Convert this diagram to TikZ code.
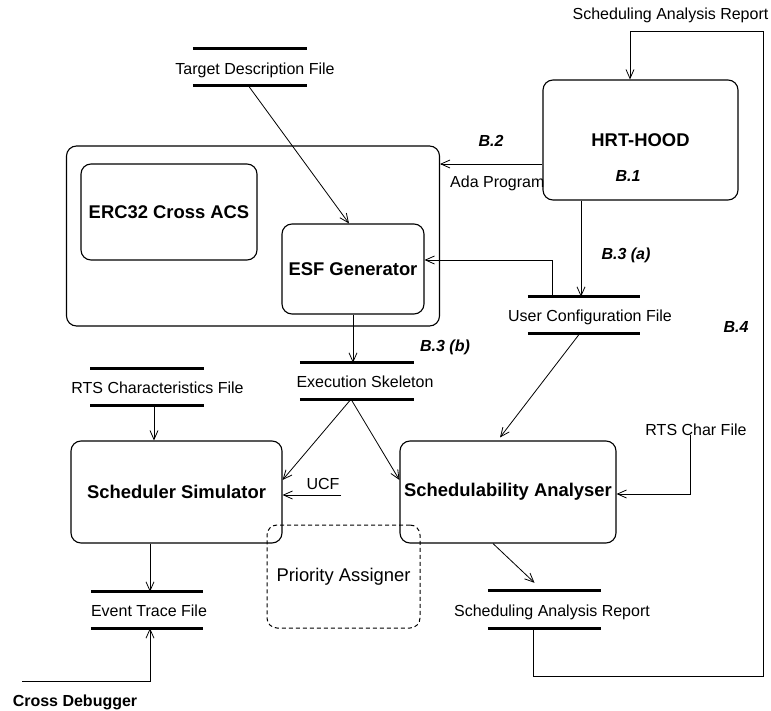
\documentclass[tikz,border=0pt]{standalone}
\usepackage{fontspec}
\setmainfont{Liberation Sans}
\usetikzlibrary{arrows.meta,calc}
\begin{document}
\begin{tikzpicture}[x=1pt,y=-1pt,
  txt/.style={font=\fontsize{16}{19}\selectfont, inner sep=0pt},
  boldtxt/.style={font=\fontsize{18.4}{22}\selectfont\bfseries},
  tag/.style={font=\fontsize{16}{19}\selectfont\bfseries\itshape, inner sep=0pt},
  proc/.style={draw, rounded corners=10pt, line width=1.1pt, inner sep=0pt},
  store/.style={inner sep=0pt, minimum height=36pt},
  bar/.style={line width=3.3pt},
  arr/.style={line width=0.8pt, -{Straight Barb[length=9pt,width=8pt]}},
  wire/.style={line width=0.8pt}]
\useasboundingbox (0,0) rectangle (771,711);

% process boxes
\node[proc, boldtxt, minimum width=195pt, minimum height=120pt] (hrt) at (640.5,140) {HRT-HOOD};
\node[proc, minimum width=373pt, minimum height=180pt] (outer) at (253,236) {};
\node[proc, boldtxt, minimum width=176pt, minimum height=96pt] (erc) at (169,212) {ERC32 Cross ACS};
\node[proc, boldtxt, minimum width=142pt, minimum height=90pt] (esf) at (353,269) {ESF Generator};
\node[proc, boldtxt, minimum width=211pt, minimum height=102pt] (ss) at (176.5,492) {Scheduler Simulator};
\node[proc, boldtxt, minimum width=216pt, minimum height=102pt] (sa) at (508,492) {Schedulability Analyser};
\node[proc, line width=1pt, dash pattern=on 4pt off 3pt, font=\fontsize{18.4}{22}\selectfont,
      minimum width=153pt, minimum height=103pt] (pa) at (343.5,576.5) {Priority Assigner};

% stores
\node[store, minimum width=114pt] (tdf) at (250,67) {};
\node[store, minimum width=112pt] (ucf) at (584,315) {};
\node[store, minimum width=114pt] (exs) at (357,381) {};
\node[store, minimum width=113pt] (rtsc) at (147,387) {};
\node[store, minimum width=113pt, minimum height=37pt] (sar) at (544.5,609.5) {};
\node[store, minimum width=112pt] (etf) at (147,610) {};
\foreach \s in {tdf,ucf,exs,rtsc,sar,etf}{
  \draw[bar] (\s.north west) -- (\s.north east);
  \draw[bar] (\s.south west) -- (\s.south east);
}
\node[txt, anchor=base] (tdfl) at (255,75) {Target Description File};
\node[txt, anchor=base] (ucfl) at (590,321) {User Configuration File};
\node[txt, anchor=base] (exsl) at (365,387) {Execution Skeleton};
\node[txt, anchor=base] (rtscl) at (157.5,393) {RTS Characteristics File};
\node[txt, anchor=base] (sarl) at (552,616) {Scheduling Analysis Report};
\node[txt, anchor=base] (etfl) at (149,616) {Event Trace File};

% free labels
\node[txt, anchor=base] (sartop) at (670.5,20) {Scheduling Analysis Report};
\node[tag, anchor=base] (b1) at (628,182) {B.1};
\node[tag, anchor=base] (b2) at (491,147) {B.2};
\node[txt, anchor=base west] (ada) at (450,188) {Ada Program};
\node[tag, anchor=base] (b3a) at (626,260) {B.3 (a)};
\node[tag, anchor=base] (b4) at (736,333) {B.4};
\node[tag, anchor=base] (b3b) at (445,352) {B.3 (b)};
\node[txt, anchor=base] (ucft) at (323,489) {UCF};
\node[txt, anchor=base] (rtscf) at (696,435) {RTS Char File};
\node[font=\fontsize{16}{19}\selectfont\bfseries, inner sep=0pt, anchor=base] (cd) at (75,706) {Cross Debugger};

% helper coordinates
\coordinate (fb1) at (763,676);
\coordinate (fb2) at (763,31);
\coordinate (yada) at (0,164);
\coordinate (xa) at (581,0);
\coordinate (xb) at (552,0);
\coordinate (yb) at (0,260);
\coordinate (ucfend) at (341,495);
\coordinate (xr) at (690,0);
\coordinate (yr) at (0,494);
\coordinate (cdend) at (22,681);
\coordinate (xe) at (150,0);
\coordinate (xs) at (154,0);

% connectors
\draw[arr] ([xshift=-11pt]sar.south) |- (fb1) -- (fb2) -| ([xshift=-10.5pt]hrt.north);
\draw[arr] (hrt.west |- yada) -- (outer.east |- yada);
\draw[arr] ([xshift=-2pt]tdf.south) -- ([xshift=-4pt]esf.north);
\draw[arr] (hrt.south -| xa) -- (ucf.north -| xa);
\draw[arr] (ucf.north -| xb) |- (esf.east |- yb);
\draw[arr] (esf.south) -- (esf.south |- exs.north);
\draw[arr] ([xshift=-6pt]exs.south) -- ([yshift=12pt]ss.east);
\draw[arr] ([xshift=-6pt]exs.south) -- ([yshift=12pt]sa.west);
\draw[arr] (rtsc.south -| xs) -- (ss.north -| xs);
\draw[arr] (ucfend) -- (ss.east |- ucfend);
\draw[arr] ([xshift=-4pt]ucf.south) -- ([xshift=-8pt,yshift=3pt]sa.north);
\draw[arr] (rtscf.south -| xr) |- (sa.east |- yr);
\draw[arr] ([xshift=-15pt]sa.south) -- ([xshift=-10pt,yshift=8pt]sar.north);
\draw[arr] (ss.south -| xe) -- (etf.north -| xe);
\draw[arr] (cdend) -| (etf.south -| xe);
\end{tikzpicture}
\end{document}
